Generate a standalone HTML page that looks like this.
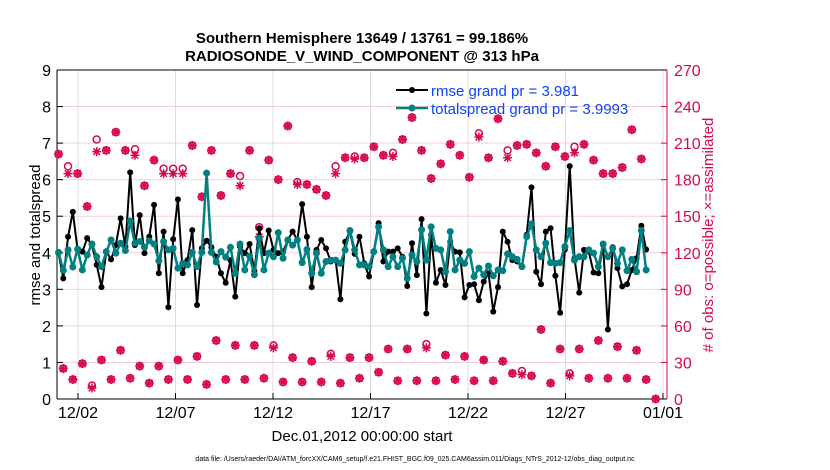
<!DOCTYPE html>
<html><head><meta charset="utf-8"><style>
html,body{margin:0;padding:0;background:#fff;}
svg{display:block;font-family:"Liberation Sans",Arial,sans-serif;}
</style></head><body>
<svg id="chart" width="830" height="470" viewBox="0 0 830 470">
<text x="362" y="43" text-anchor="middle" font-size="15" font-weight="bold">Southern Hemisphere 13649 / 13761 = 99.186%</text>
<text x="362" y="61" text-anchor="middle" font-size="15" font-weight="bold">RADIOSONDE_V_WIND_COMPONENT @ 313 hPa</text>
<g id="grid"></g>
<g id="axes"></g>
<g id="marks"></g>
<text transform="translate(40,235) rotate(-90)" text-anchor="middle" font-size="15">rmse and totalspread</text>
<text transform="translate(713,235) rotate(-90)" text-anchor="middle" font-size="15" fill="#d6094f"># of obs: o=possible; ×=assimilated</text>
<text x="362" y="441" text-anchor="middle" font-size="15">Dec.01,2012 00:00:00 start</text>
<text x="415" y="461" text-anchor="middle" font-size="7">data file: /Users/raeder/DAI/ATM_forcXX/CAM6_setup/f.e21.FHIST_BGC.f09_025.CAM6assim.011/Diags_NTrS_2012-12/obs_diag_output.nc</text>
<g>
<line x1="396" y1="90" x2="428" y2="90" stroke="#000" stroke-width="2"/>
<circle cx="412" cy="90" r="3" fill="#000"/>
<text x="431" y="96" font-size="15" fill="#0b45f5">rmse grand pr = 3.981</text>
<line x1="396" y1="108" x2="428" y2="108" stroke="#008080" stroke-width="2.5"/>
<circle cx="412" cy="108" r="3.5" fill="#008080"/>
<text x="431" y="114" font-size="15" fill="#0b45f5">totalspread grand pr = 3.9993</text>
</g>
</svg>
<script>
const rmse=[3.99,3.30,4.44,5.12,4.08,4.03,4.40,4.21,3.67,3.06,4.03,3.82,4.21,4.94,4.17,6.20,4.21,5.03,3.99,4.44,5.31,3.44,4.58,2.51,4.37,5.46,3.44,3.80,4.62,2.57,4.12,4.33,4.15,3.89,3.44,3.18,3.80,2.80,4.17,3.99,4.24,3.50,4.67,3.99,
4.61,4.08,3.99,4.03,4.35,4.58,4.35,5.33,4.44,3.06,4.08,4.35,4.12,3.76,3.80,2.73,4.30,4.58,3.97,4.44,3.71,3.35,4.03,4.81,3.76,4.03,4.03,4.12,3.89,3.09,4.26,3.39,4.92,2.34,4.49,3.18,3.53,3.12,4.30,4.03,4.01,
2.78,3.12,3.14,2.70,3.21,3.44,2.39,3.06,4.58,4.30,3.80,3.76,3.62,4.49,5.79,3.48,3.14,4.58,4.67,3.37,2.36,4.09,6.37,3.85,2.91,4.08,4.03,3.46,3.44,4.21,1.90,4.15,3.58,3.08,3.14,3.53,3.85,4.74,4.09];
const spread=[4.01,3.52,4.08,3.61,4.10,3.53,3.94,4.24,3.89,3.62,4.03,4.35,3.99,4.26,4.06,4.87,4.26,4.31,4.15,4.33,4.24,3.78,4.31,4.08,4.12,3.58,3.71,3.67,4.01,3.62,4.01,6.18,4.01,3.75,4.03,3.88,4.15,3.44,4.24,3.53,3.91,3.40,4.40,3.53,
3.99,3.89,4.55,3.85,4.35,4.21,4.35,3.73,4.09,3.44,3.99,3.44,3.76,3.80,3.80,3.71,4.08,4.61,4.08,3.67,3.67,3.62,4.03,4.71,4.08,3.62,3.89,3.62,3.85,3.30,3.94,3.76,4.63,3.80,4.71,4.12,4.08,3.48,4.58,3.53,3.80,
3.71,4.03,3.35,3.58,3.40,3.64,3.37,3.53,3.51,3.97,3.89,3.82,3.62,4.44,4.79,4.08,3.89,4.26,3.73,3.71,3.73,4.17,4.61,3.80,3.89,3.89,4.08,3.99,3.62,4.24,3.89,4.12,3.71,4.08,3.51,3.82,3.48,4.61,3.53];
const obsHighAssim=[201,185,185,158,203,204,219,204,200,175,196,185,185,185,208,166,204,167,185,175,204,133,
196,180,224,176,176,172,167,185,198,197,198,207,200,199,213,231,204,181,193,209,200,
182,215,198,230,198,208,209,202,191,207,199,202,209,196,185,185,190,221,197];
const obsHighPoss=[201,191,185,158,213,204,219,204,205,175,196,189,189,189,208,166,204,167,185,183,204,141,
196,180,224,178,176,172,167,191,198,199,198,207,200,202,213,231,204,181,193,209,200,
182,218,198,230,204,208,209,202,191,207,199,207,209,196,185,185,190,221,197];
const obsLowAssim=[25,16,29,9,32,16,40,17,27,13,27,16,32,16,35,12,48,16,44,16,44,17,
42,14,34,14,31,14,35,13,34,17,34,22,41,15,41,15,42,15,36,16,
35,15,32,15,31,21,20,19,57,13,41,19,41,17,48,17,43,17,40,16,0];
const obsLowPoss=[25,16,29,11,32,16,40,17,27,13,27,16,32,16,35,12,48,16,44,16,44,17,
44,14,34,14,31,14,37,13,34,17,34,22,41,15,41,15,45,15,36,16,
35,15,32,15,31,21,23,19,57,13,41,21,41,17,48,17,43,17,40,16,0];
const leftTicks=[0,1,2,3,4,5,6,7,8,9];
const rightTicks=[0,30,60,90,120,150,180,210,240,270];
const dateTicks=["12/02","12/07","12/12","12/17","12/22","12/27","01/01"];
const dateTickDays=[1,6,11,16,21,26,31];
const stepDays=0.245;

const L=57,R=667,T=70,B=399;
const x=d=>58.5+d*19.5;
const yL=v=>B-(v/9)*(B-T);
const yR=v=>B-(v/270)*(B-T);
const NS="http://www.w3.org/2000/svg";
function mk(parent,tag,attrs){const e=document.createElementNS(NS,tag);for(const k in attrs)e.setAttribute(k,attrs[k]);parent.appendChild(e);return e;}
const grid=document.getElementById('grid'),axes=document.getElementById('axes'),marks=document.getElementById('marks');
const pink="#d6094f";
leftTicks.forEach(v=>{if(v>0&&v<9){const l=mk(grid,'line',{x1:L,x2:R,y1:yL(v),y2:yL(v),stroke:'#f3cfdc','stroke-width':1});

}
const t=mk(axes,'text',{x:L-6,y:yL(v)+6,'text-anchor':'end','font-size':16});t.textContent=v;


mk(axes,'line',{x1:L,x2:L+6,y1:yL(v),y2:yL(v),stroke:'#000'});});
rightTicks.forEach(v=>{const t=mk(axes,'text',{x:R+7,y:yR(v)+6,'font-size':16,fill:pink});t.textContent=v;


mk(axes,'line',{x1:R-6,x2:R,y1:yR(v),y2:yR(v),stroke:pink});});
dateTicks.forEach((lab,i)=>{const xx=x(dateTickDays[i]);
const g=mk(grid,'line',{x1:xx,x2:xx,y1:T,y2:B,stroke:'#dcdcdc','stroke-width':1});


mk(axes,'line',{x1:xx,x2:xx,y1:B,y2:B-6,stroke:'#000'});
const t=mk(axes,'text',{x:xx,y:418,'text-anchor':'middle','font-size':16});t.textContent=lab;

});
mk(axes,'line',{x1:L,x2:R,y1:T,y2:T,stroke:'#000'});
mk(axes,'line',{x1:L,x2:R,y1:B,y2:B,stroke:'#000'});
mk(axes,'line',{x1:L,x2:L,y1:T,y2:B,stroke:'#000'});
mk(axes,'line',{x1:R,x2:R,y1:T,y2:B,stroke:pink});

function star(cx,cy){const g=mk(marks,'g',{});
mk(g,'path',{d:`M${cx-4.5},${cy}L${cx+4.5},${cy}M${cx},${cy-4.5}L${cx},${cy+4.5}M${cx-3.3},${cy-3.3}L${cx+3.3},${cy+3.3}M${cx-3.3},${cy+3.3}L${cx+3.3},${cy-3.3}`,stroke:pink,'stroke-width':1.5});
mk(g,'rect',{x:cx-2,y:cy-2,width:4,height:4,fill:pink,transform:`rotate(45 ${cx} ${cy})`});

}
function circ(cx,cy){const c=mk(marks,'circle',{cx:cx,cy:cy,r:3.5,fill:'none',stroke:pink,'stroke-width':1.5});

}
obsHighPoss.forEach((v,i)=>circ(x(2*i*stepDays),yR(v)));
obsLowPoss.forEach((v,i)=>circ(x((2*i+1)*stepDays),yR(v)));
obsHighAssim.forEach((v,i)=>star(x(2*i*stepDays),yR(v)));
obsLowAssim.forEach((v,i)=>star(x((2*i+1)*stepDays),yR(v)));

function series(arr,color,w,r,name){
const d=arr.map((v,i)=>(i?'L':'M')+x(i*stepDays).toFixed(1)+','+yL(v).toFixed(1)).join('');
const p=mk(marks,'path',{d:d,fill:'none',stroke:color,'stroke-width':w,'stroke-linejoin':'round'});


arr.forEach((v,i)=>{const c=mk(marks,'circle',{cx:x(i*stepDays),cy:yL(v),r:r,fill:color});

});}
series(rmse,'#000',2,3,'rmse');
series(spread,'#008080',2.5,3.5,'totalspread');
</script>
</body></html>
